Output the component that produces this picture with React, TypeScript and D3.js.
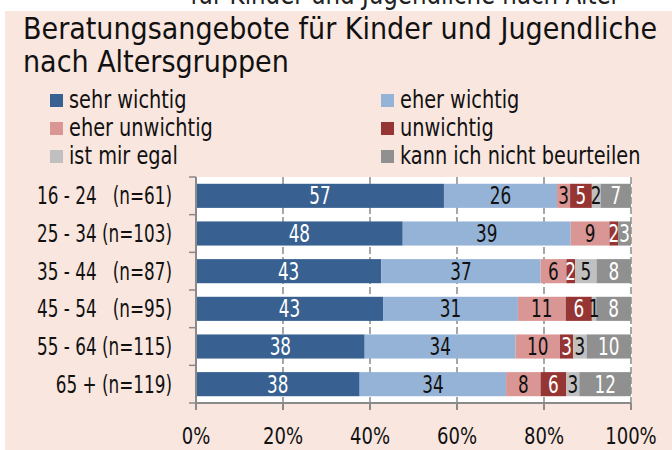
import React, { useEffect, useRef } from "react";
import * as d3 from "d3";

// age groups (row labels, spaces kept as in the source)
const groups = [
  "16 - 24   (n=61)",
  "25 - 34 (n=103)",
  "35 - 44   (n=87)",
  "45 - 54   (n=95)",
  "55 - 64 (n=115)",
  "65 + (n=119)",
];
const categories = [
  "sehr wichtig",
  "eher wichtig",
  "eher unwichtig",
  "unwichtig",
  "ist mir egal",
  "kann ich nicht beurteilen",
];
// percentages per answer, one value per age group
const sehrWichtig = [57, 48, 43, 43, 38, 38];
const eherWichtig = [26, 39, 37, 31, 34, 34];
const eherUnwichtig = [3, 9, 6, 11, 10, 8];
const unwichtig = [5, 2, 2, 6, 3, 6];
const egal = [2, 0, 5, 1, 3, 3];
const nichtBeurteilen = [7, 3, 8, 8, 10, 12];
const xTicks = [0, 0.2, 0.4, 0.6, 0.8, 1];

const colors = ["#386192", "#95b3d7", "#d99694", "#963634", "#c0c0c0", "#909090"];
const labelColors = ["#ffffff", "#111111", "#111111", "#ffffff", "#111111", "#ffffff"];
const font = "'DejaVu Sans Condensed', 'DejaVu Sans', sans-serif";

export default function App() {
  const ref = useRef<SVGSVGElement>(null);

  useEffect(() => {
    document.body.style.margin = "0";
    const svg = d3.select(ref.current);
    svg.selectAll("*").remove();

    // text squeezed horizontally, the source uses a narrow font
    const addText = (parent: any, x: number, y: number, txt: string, size: number, sx: number, anchor = "start", color = "#111") =>
      parent.append("text")
        .attr("transform", `translate(${x},${y}) scale(${sx},1)`)
        .attr("text-anchor", anchor)
        .style("font-family", font).style("font-size", size + "px")
        .attr("fill", color)
        .text(txt);

    const series = [sehrWichtig, eherWichtig, eherUnwichtig, unwichtig, egal, nichtBeurteilen];
    const rows = groups.map((g, i) => {
      const row: any = { group: g };
      categories.forEach((c, k) => (row[c] = series[k][i]));
      return row;
    });
    const stacked = d3.stack().keys(categories).offset(d3.stackOffsetExpand)(rows);

    const left = 196, right = 632, top = 177, bottom = 403;

    // background
    svg.append("rect").attr("width", 672).attr("height", 450).attr("fill", "#ffffff");
    addText(svg, 620, 4, "für Kinder und Jugendliche nach Alter", 29, 0.88, "end", "#222");
    svg.append("rect").attr("x", 5).attr("y", 11).attr("width", 667).attr("height", 439).attr("fill", "#f9e6df");

    // title
    addText(svg, 23, 39, "Beratungsangebote für Kinder und Jugendliche", 30, 1.0);
    addText(svg, 23, 72, "nach Altersgruppen", 30, 1.0);

    // legend
    const legend = svg.append("g");
    categories.forEach((c, k) => {
      const lx = k % 2 === 0 ? 50 : 381;
      const ly = 100 + Math.floor(k / 2) * 28;
      legend.append("rect").attr("x", lx).attr("y", ly - 6).attr("width", 13).attr("height", 13).attr("fill", colors[k]);
      addText(legend, lx + 19, ly + 8, c, 24, 0.895);
    });

    const x = d3.scaleLinear().domain([0, 1]).range([left, 631]);
    const y = d3.scaleBand().domain(groups).range([top, bottom]).paddingInner(0.36).paddingOuter(0.18);

    // plot area
    svg.append("rect").attr("x", left).attr("y", top).attr("width", right - left).attr("height", bottom - top).attr("fill", "#ffffff");

    // dashed grid
    svg.append("g").selectAll("line")
      .data(xTicks.slice(1))
      .enter().append("line")
      .attr("x1", d => x(d)).attr("x2", d => x(d))
      .attr("y1", top).attr("y2", bottom)
      .attr("stroke", "#8a8a8a").attr("stroke-width", 1.5).attr("stroke-dasharray", "7,3");

    // bars
    const layer = svg.append("g").selectAll("g")
      .data(stacked).enter().append("g")
      .attr("fill", (d, k) => colors[k]);
    layer.selectAll("rect")
      .data(d => d)
      .enter().append("rect")
      .attr("x", d => x(d[0]))
      .attr("y", d => y((d.data as any).group)!)
      .attr("width", d => x(d[1]) - x(d[0]))
      .attr("height", y.bandwidth());

    // value labels
    stacked.forEach((s, k) => {
      svg.append("g").selectAll("text")
        .data(s.filter(d => (d.data as any)[categories[k]] > 0))
        .enter().append("text")
        .attr("transform", d => `translate(${(x(d[0]) + x(d[1])) / 2},${y((d.data as any).group)! + y.bandwidth() / 2 + 8.5}) scale(0.78,1)`)
        .attr("text-anchor", "middle")
        .style("font-family", font).style("font-size", "24px")
        .attr("fill", labelColors[k])
        .text(d => (d.data as any)[categories[k]]);
    });

    // axes
    const axisColor = "#8a8a8a";
    svg.append("line").attr("x1", left).attr("x2", left).attr("y1", top).attr("y2", bottom + 5)
      .attr("stroke", axisColor).attr("stroke-width", 2);
    svg.append("line").attr("x1", left).attr("x2", 631).attr("y1", bottom).attr("y2", bottom)
      .attr("stroke", axisColor).attr("stroke-width", 2);
    const step = y.step();
    svg.append("g").selectAll("line")
      .data(d3.range(groups.length + 1))
      .enter().append("line")
      .attr("x1", left - 7).attr("x2", left)
      .attr("y1", i => top + i * step).attr("y2", i => top + i * step)
      .attr("stroke", axisColor).attr("stroke-width", 1.5);
    svg.append("g").selectAll("line")
      .data(xTicks)
      .enter().append("line")
      .attr("x1", d => x(d)).attr("x2", d => x(d))
      .attr("y1", bottom).attr("y2", bottom + 7)
      .attr("stroke", axisColor).attr("stroke-width", 2);
    const tickG = svg.append("g");
    xTicks.forEach(t => addText(tickG, x(t), 444, d3.format(".0%")(t), 23, 0.87, "middle"));

    // row labels
    const rowG = svg.append("g");
    groups.forEach(g => {
      addText(rowG, 172, y(g)! + y.bandwidth() / 2 + 8.5, g, 24, 0.78, "end")
        .style("white-space", "pre");
    });
  }, []);

  return <svg ref={ref} width={672} height={450} style={{ display: "block" }} />;
}
